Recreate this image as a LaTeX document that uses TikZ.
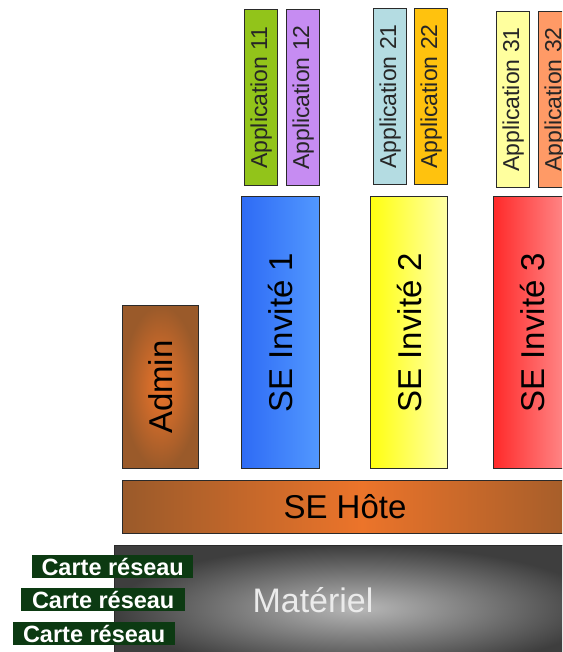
\documentclass[tikz,border=0pt]{standalone}
\usepackage{fontspec}
\setmainfont{Liberation Sans}
\definecolor{appA}{HTML}{92C41A}
\definecolor{appB}{HTML}{C68CF2}
\definecolor{appC}{HTML}{B4DCE2}
\definecolor{appD}{HTML}{FFC20E}
\definecolor{appE}{HTML}{FFFF9E}
\definecolor{appF}{HTML}{FF9A66}
\definecolor{blueL}{HTML}{2E6BF5}
\definecolor{blueR}{HTML}{5298FF}
\definecolor{yelL}{HTML}{FFFF10}
\definecolor{yelR}{HTML}{FFFFA8}
\definecolor{redL}{HTML}{FF2A2A}
\definecolor{redR}{HTML}{FF9090}
\definecolor{brownE}{HTML}{9A5A2A}
\definecolor{orangeC}{HTML}{EC742A}
\definecolor{greyD}{HTML}{3E3E3E}
\definecolor{greyL}{HTML}{B8B8B8}
\definecolor{nicgreen}{HTML}{0C3A12}
\definecolor{edge}{HTML}{2A2A2A}
\tikzset{
  layer/.style={draw=edge, line width=1.2pt, inner sep=0pt, anchor=north west},
  appbox/.style={layer, minimum width=33pt, minimum height=176pt},
  apptext/.style={rotate=90, font=\fontsize{23}{23}\selectfont, text=black!85},
  bigtext/.style={rotate=90, font=\fontsize{33}{33}\selectfont, text=black},
  nicbox/.style={fill=nicgreen, inner sep=0pt, anchor=north west, minimum height=23pt,
    font=\bfseries\fontsize{23.5}{23.5}\selectfont, text=white},
}
\begin{document}
\begin{tikzpicture}[x=1pt, y=-1pt]
  \useasboundingbox (0,0) rectangle (562,652);
  \clip (0,0) rectangle (562,652);

  % applications on top of each guest system
  \node[appbox, fill=appA] (a11) at (244,9) {};
  \node[appbox, fill=appB] (a12) at (286,9) {};
  \node[appbox, fill=appC] (a21) at (373,8) {};
  \node[appbox, fill=appD] (a22) at (414,8) {};
  \node[appbox, fill=appE] (a31) at (496,11) {};
  \node[appbox, fill=appF] (a32) at (538,11) {};
  \node[apptext] (t11) at (a11) {Application 11};
  \node[apptext] (t12) at (a12) {Application 12};
  \node[apptext] (t21) at (a21) {Application 21};
  \node[apptext] (t22) at (a22) {Application 22};
  \node[apptext] (t31) at (a31) {Application 31};
  \node[apptext] (t32) at (a32) {Application 32};

  % administration domain and guest systems
  \node[layer, minimum width=76pt, minimum height=163pt,
        shading=radial, inner color=orangeC, outer color=brownE] (adm) at (122,305) {};
  \node[layer, minimum width=78pt, minimum height=272pt,
        left color=blueL, right color=blueR] (g1) at (241,196) {};
  \node[layer, minimum width=77pt, minimum height=272pt,
        left color=yelL, right color=yelR] (g2) at (370,196) {};
  \node[layer, minimum width=78pt, minimum height=272pt,
        left color=redL, right color=redR] (g3) at (493,196) {};
  \node[bigtext] (tadm) at (adm) {Admin};
  \node[bigtext] (tg1) at (g1) {SE Invité 1};
  \node[bigtext] (tg2) at (g2) {SE Invité 2};
  \node[bigtext] (tg3) at (g3) {SE Invité 3};

  % host system
  \node[layer, minimum width=478pt, minimum height=53pt,
        left color=brownE, right color=brownE, middle color=orangeC] (host) at (122,480) {};
  \node[font=\fontsize{33}{33}\selectfont, text=black] (thost) at (345,507) {SE Hôte};

  % hardware
  \node[layer, minimum width=486pt, minimum height=125pt,
        shading=radial, inner color=greyL, outer color=greyD] (hw) at (114,545) {};
  \node[font=\fontsize{34}{34}\selectfont, text=white!92!black] (thw) at (313,600) {Matériel};

  % network cards
  \node[nicbox, minimum width=161pt] (n1) at (32,555) {Carte réseau};
  \node[nicbox, minimum width=164pt] (n2) at (21,588) {Carte réseau};
  \node[nicbox, minimum width=162pt] (n3) at (13,622) {Carte réseau};
\end{tikzpicture}
\end{document}
